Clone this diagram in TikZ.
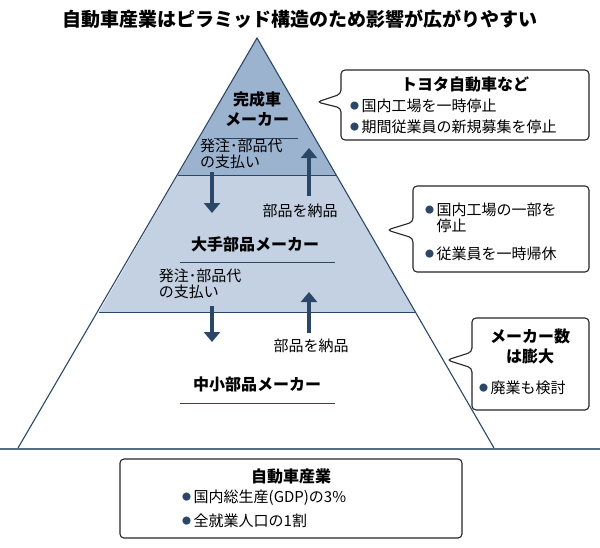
\documentclass[tikz,border=0pt]{standalone}
\usepackage{fontspec}
\setmainfont{Noto Sans CJK JP}
\usetikzlibrary{arrows.meta}
\definecolor{navy}{HTML}{2B4767}
\definecolor{topb}{HTML}{9CB3CF}
\definecolor{midb}{HTML}{C3D1E3}
\tikzset{x=1pt,y=-1pt,
 lbl/.style={font=\fontsize{15}{16}\selectfont, align=center, inner sep=0pt},
 hd/.style={font=\bfseries\fontsize{16}{20}\selectfont, align=center, inner sep=0pt},
 flow/.style={navy, line width=4pt, -{Triangle[length=10pt,width=16pt]}},
 uline/.style={navy, line width=1pt},
 callout/.style={draw=black!85, line width=1.1pt, fill=white, rounded corners=4pt},
 blt/.style={lbl, align=left, anchor=west}}
\newcommand{\dotb}{{\color{navy}\raisebox{0.25ex}{\scalebox{0.6}{●}}}\,}
\begin{document}
\begin{tikzpicture}
\useasboundingbox (0,0) rectangle (600,547);
\node[font=\bfseries\fontsize{19}{20}\selectfont] (title) at (300,19) {自動車産業はピラミッド構造のため影響が広がりやすい};
% pyramid
\coordinate (apex) at (257,38);
\coordinate (bl) at (18,448); \coordinate (br) at (494,448);
\fill[topb] (apex) -- (336,175) -- (178,175) -- cycle;
\fill[midb] (178,175) -- (336,175) -- (415,312) -- (99,312) -- cycle;
\draw[navy, line width=1pt] (178,175) -- (336,175) (99,312) -- (415,312);
\draw[navy, line width=1.1pt] (bl) -- (apex) -- (br);
\draw[navy!80, line width=1.4pt] (0,449) -- (600,449);
% labels
\node[hd] (kansei) at (257,109) {完成車\\メーカー};
\draw[uline] (214,138) -- (298,138);
\node[lbl, align=left, anchor=west] (hat1) at (200,154) {発注･部品代\\の支払い};
\coordinate (d1s) at (212,172); \coordinate (d1e) at (212,213);
\draw[flow] (d1s) -- (d1e);
\coordinate (u1s) at (309,196); \coordinate (u1e) at (309,148);
\draw[flow] (u1s) -- (u1e);
\node[lbl] (nou1) at (300,211) {部品を納品};
\node[hd] (ote) at (255,244) {大手部品メーカー};
\draw[uline] (180,262) -- (335,262);
\node[lbl, align=left] (hat2) at (200,284) {発注･部品代\\の支払い};
\coordinate (d2s) at (212,306); \coordinate (d2e) at (212,342);
\draw[flow] (d2s) -- (d2e);
\coordinate (u2s) at (309,333); \coordinate (u2e) at (309,292);
\draw[flow] (u2s) -- (u2e);
\node[lbl] (nou2) at (311,346) {部品を納品};
\node[hd] (chu) at (257,384) {中小部品メーカー};
\draw[uline] (180,403) -- (335,403);
% callout 1
\draw[callout] (341,70) -- (589,70) -- (589,140) -- (341,140) -- (341,108) -- (317,102) -- (341,94) -- cycle;
\node[hd] (c1t) at (465,84) {トヨタ自動車など};
\node[blt] (c1a) at (350,106) {\dotb 国内工場を一時停止};
\node[blt] (c1b) at (350,127) {\dotb 期間従業員の新規募集を停止};
% callout 2
\draw[callout] (413,186) -- (589,186) -- (589,272) -- (413,272) -- (413,238) -- (387,230) -- (413,222) -- cycle;
\node[blt] (c2a) at (425,218) {\dotb 国内工場の一部を\\\phantom{\dotb}停止};
\node[blt] (c2b) at (425,254) {\dotb 従業員を一時帰休};
% callout 3
\draw[callout] (472,318) -- (589,318) -- (589,410) -- (472,410) -- (472,368) -- (447,360) -- (472,352) -- cycle;
\node[hd] (c3t) at (530,346) {メーカー数\\は膨大};
\node[blt] (c3a) at (479,388) {\dotb 廃業も検討};
% bottom box
\draw[callout] (120,459) rectangle (462,538);
\node[hd] (bt) at (291,476) {自動車産業};
\node[blt] (ba) at (182,498) {\dotb 国内総生産(GDP)の3\%};
\node[blt] (bb) at (182,521) {\dotb 全就業人口の1割};
\end{tikzpicture}
\end{document}
